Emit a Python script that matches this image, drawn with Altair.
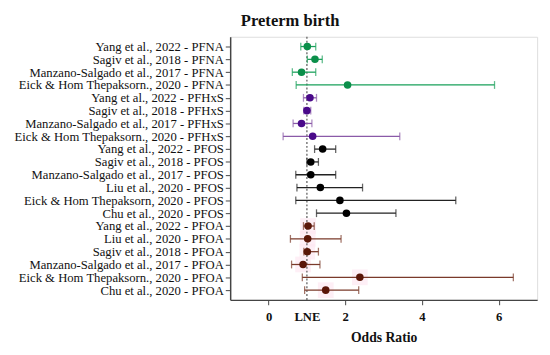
import altair as alt
import pandas as pd

labels = [
    "Yang et al., 2022 - PFNA",
    "Sagiv et al., 2018 - PFNA",
    "Manzano-Salgado et al., 2017 - PFNA",
    "Eick & Hom Thepaksorn., 2020 - PFNA",
    "Yang et al., 2022 - PFHxS",
    "Sagiv et al., 2018 - PFHxS",
    "Manzano-Salgado et al., 2017 - PFHxS",
    "Eick & Hom Thepaksorn., 2020 - PFHxS",
    "Yang et al., 2022 -  PFOS",
    "Sagiv et al., 2018 - PFOS",
    "Manzano-Salgado et al., 2017 - PFOS",
    "Liu et al., 2020 - PFOS",
    "Eick & Hom Thepaksorn, 2020 - PFOS",
    "Chu et al., 2020 -  PFOS",
    "Yang et al., 2022 - PFOA",
    "Liu et al., 2020 - PFOA",
    "Sagiv et al., 2018 - PFOA",
    "Manzano-Salgado et al., 2017 - PFOA",
    "Eick & Hom Thepaksorn., 2020 - PFOA",
    "Chu et al., 2020 - PFOA",
]
compound = ["PFNA"] * 4 + ["PFHxS"] * 4 + ["PFOS"] * 6 + ["PFOA"] * 6
odds_ratio = [1.01, 1.21, 0.86, 2.06, 1.08, 1.00, 0.86, 1.15, 1.41, 1.10,
              1.10, 1.35, 1.86, 2.03, 1.03, 1.02, 1.01, 0.90, 2.38, 1.49]
ci_low = [0.84, 1.01, 0.62, 0.72, 0.91, 0.92, 0.64, 0.38, 1.20, 1.00,
          0.71, 0.74, 0.71, 1.25, 0.91, 0.57, 0.92, 0.60, 0.88, 0.94]
ci_high = [1.23, 1.40, 1.23, 5.89, 1.25, 1.10, 1.13, 3.42, 1.75, 1.30,
           1.75, 2.45, 4.88, 3.32, 1.19, 1.89, 1.30, 1.34, 6.38, 2.35]

groups = ["PFNA", "PFHxS", "PFOS", "PFOA"]
point_colors = ["#0b8f4a", "#4a0a8a", "#000000", "#5a1608"]
bar_colors = ["#19a05a", "#8a5aa8", "#222222", "#7a3a2a"]

df = pd.DataFrame({
    "label": labels,
    "compound": compound,
    "or": odds_ratio,
    "lo": ci_low,
    "hi": ci_high,
})

FONT = "Liberation Serif"

yenc = alt.Y(
    "label:N",
    sort=labels,
    scale=alt.Scale(type="point", padding=0.76),
    axis=alt.Axis(title=None, labelFontSize=13, labelFont=FONT, labelColor="#111",
                  tickSize=5, tickColor="#444", domainColor="#444", domainWidth=1.5,
                  labelPadding=2, labelLimit=0, labelOverlap=False, grid=False),
)
xscale = alt.Scale(domain=[-1, 7], nice=False, zero=False)
xaxis = alt.Axis(
    values=[0, 1, 2, 4, 6],
    labelExpr="datum.value == 1 ? 'LNE' : datum.label",
    tickOpacity=alt.expr("datum.value == 1 ? 0 : 1"),
    labelFontWeight="bold", labelFontSize=13, labelFont=FONT, labelColor="#111",
    title="Odds Ratio", titleFontSize=14, titleFont=FONT, titleFontWeight="bold",
    titleColor="#111", titlePadding=8, tickSize=5, tickColor="#444",
    domainColor="#444", domainWidth=1.5, labelPadding=6, grid=False,
)

base = alt.Chart(df)

halo = base.transform_filter(alt.datum.compound == "PFOA").mark_square(
    size=260, color="#fde8f2", opacity=0.7
).encode(x=alt.X("or:Q", scale=xscale, axis=xaxis), y=yenc)

ref = alt.Chart(pd.DataFrame({"v": [1]})).mark_rule(
    strokeDash=[2, 2], color="#555", strokeWidth=1.2
).encode(x=alt.X("v:Q", scale=xscale))

bars = base.mark_rule(strokeWidth=1.3).encode(
    x=alt.X("lo:Q", scale=xscale, axis=xaxis),
    x2="hi:Q",
    y=yenc,
    color=alt.Color("compound:N", scale=alt.Scale(domain=groups, range=bar_colors), legend=None),
)
caps_lo = base.mark_tick(size=8, thickness=1.3).encode(
    x=alt.X("lo:Q", scale=xscale), y=yenc,
    color=alt.Color("compound:N", scale=alt.Scale(domain=groups, range=bar_colors), legend=None),
)
caps_hi = base.mark_tick(size=8, thickness=1.3).encode(
    x=alt.X("hi:Q", scale=xscale), y=yenc,
    color=alt.Color("compound:N", scale=alt.Scale(domain=groups, range=bar_colors), legend=None),
)
points = base.mark_circle(size=60, opacity=1).encode(
    x=alt.X("or:Q", scale=xscale), y=yenc,
    fill=alt.Fill("compound:N", scale=alt.Scale(domain=groups, range=point_colors), legend=None),
)

chart = alt.layer(halo, ref, bars, caps_lo, caps_hi, points).resolve_scale(
    color="independent"
).properties(
    width=315,
    height=270,
    padding={"left": 5, "top": 0, "right": 5, "bottom": 5},
    title=alt.TitleParams("Preterm birth", font=FONT, fontSize=17, fontWeight="bold",
                          color="#111", anchor="middle", dx=-96, offset=6),
).configure_view(strokeWidth=0).configure(background="white")

chart.save("out.html", embed_options={"renderer": "svg", "actions": False})
